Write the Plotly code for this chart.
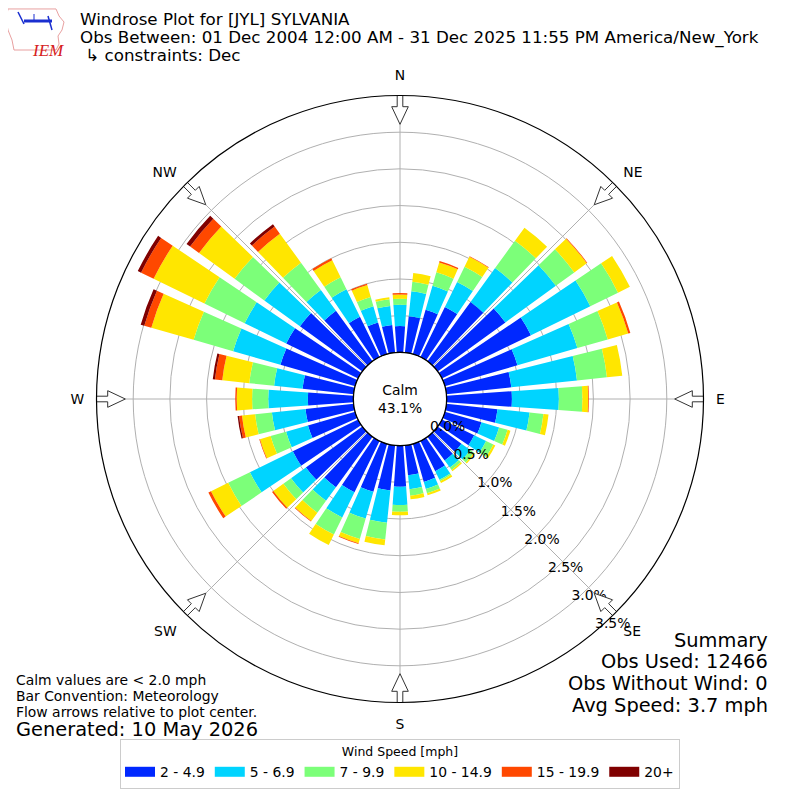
import math
import plotly.graph_objects as go

# ---------------------------
# DATA (percent of all obs, per 10 degree direction bin)
# ---------------------------
directions = list(range(0, 360, 10))
speed_bins = ["2 - 4.9", "5 - 6.9", "7 - 9.9", "10 - 14.9", "15 - 19.9", "20+"]
bin_colors = ["#0028ff", "#00d4ff", "#7cff79", "#ffe600", "#ff4800", "#800000"]

pct_2_5 = [0.36, 0.50, 0.63, 0.76, 1.00, 1.14, 1.35, 1.03, 0.89, 0.89, 0.70, 0.52,
           0.49, 0.40, 0.40, 0.46, 0.54, 0.41, 0.56, 0.62, 0.68, 0.78, 0.85, 0.95,
           0.99, 0.67, 0.66, 0.62, 0.70, 1.06, 1.09, 1.05, 0.85, 0.61, 0.45, 0.38]
pct_5_7 = [0.29, 0.34, 0.34, 0.38, 0.57, 0.85, 0.90, 0.85, 0.90, 0.64, 0.44, 0.25,
           0.18, 0.15, 0.12, 0.13, 0.10, 0.19, 0.25, 0.44, 0.38, 0.38, 0.23, 0.25,
           0.65, 0.31, 0.46, 0.54, 0.39, 0.67, 0.63, 0.60, 0.35, 0.42, 0.23, 0.26]
pct_7_10 = [0.08, 0.13, 0.19, 0.23, 0.46, 0.31, 0.42, 0.43, 0.41, 0.32, 0.19, 0.12,
            0.11, 0.06, 0.04, 0.02, 0.06, 0.09, 0.09, 0.23, 0.29, 0.26, 0.20, 0.13,
            0.33, 0.22, 0.23, 0.22, 0.34, 0.56, 0.61, 0.50, 0.46, 0.18, 0.13, 0.09]
pct_10_15 = [0.06, 0.12, 0.14, 0.15, 0.22, 0.21, 0.18, 0.29, 0.21, 0.08, 0.07, 0.04,
             0.03, 0.02, 0.02, 0.03, 0.03, 0.05, 0.05, 0.08, 0.06, 0.16, 0.14, 0.17,
             0.26, 0.15, 0.18, 0.21, 0.37, 0.60, 0.77, 0.60, 0.49, 0.26, 0.17, 0.03]
pct_15_20 = [0.02, 0.00, 0.02, 0.01, 0.00, 0.01, 0.00, 0.03, 0.00, 0.01, 0.00, 0.00,
             0.00, 0.00, 0.00, 0.00, 0.00, 0.00, 0.00, 0.00, 0.01, 0.00, 0.01, 0.02,
             0.04, 0.01, 0.04, 0.02, 0.10, 0.10, 0.19, 0.15, 0.12, 0.03, 0.02, 0.00]
pct_20p = [0.00, 0.00, 0.00, 0.00, 0.00, 0.00, 0.00, 0.00, 0.00, 0.00, 0.00, 0.00,
           0.00, 0.00, 0.00, 0.00, 0.00, 0.00, 0.00, 0.00, 0.00, 0.00, 0.00, 0.00,
           0.00, 0.00, 0.02, 0.00, 0.03, 0.05, 0.05, 0.06, 0.04, 0.00, 0.00, 0.00]
series = [pct_2_5, pct_5_7, pct_7_10, pct_10_15, pct_15_20, pct_20p]

calm_pct = 43.1
r_ticks = [0, 0.5, 1.0, 1.5, 2.0, 2.5, 3.0, 3.5]
r_labels = ["%.1f%%" % v for v in r_ticks]
compass = ["N", "NE", "E", "SE", "S", "SW", "W", "NW"]
compass_deg = [0, 45, 90, 135, 180, 225, 270, 315]

# ---------------------------
# GEOMETRY (figure pixels; the page adds an 8px body margin)
# ---------------------------
W, H = 800, 800
OFF = 8
cx, cy = 400 - OFF, 399 - OFF
R_OUT, R_IN = 303.5, 46.6
RMAX = 3.5
FONT = "DejaVu Sans"


def px_to_r(p):
    return (p - R_IN) / (R_OUT - R_IN) * RMAX


fig = go.Figure()

for name, col, vals in zip(speed_bins, bin_colors, series):
    fig.add_trace(go.Barpolar(
        r=vals, theta=directions, width=8, name=name, legendgroup=name,
        showlegend=False,
        marker=dict(color=col, line=dict(width=0)),
        hoverinfo="skip",
    ))
    # legend swatch (wide rectangle like the original)
    fig.add_trace(go.Scatterpolar(
        r=[None], theta=[None], mode="lines", name=name, legendgroup=name,
        line=dict(color=col, width=10), hoverinfo="skip",
    ))

# black ring round the calm hole
fig.add_trace(go.Scatterpolar(
    r=[0] * 361, theta=list(range(361)), mode="lines",
    line=dict(color="black", width=1.2), showlegend=False, hoverinfo="skip",
))

# radial tick labels, horizontal, beside the 140 degree line
fig.add_trace(go.Scatterpolar(
    r=r_ticks, theta=[140] * len(r_ticks), mode="text", text=r_labels,
    textposition="top right", textfont=dict(size=13.9, color="black", family=FONT),
    cliponaxis=False, showlegend=False, hoverinfo="skip",
))

# hollow flow arrows at the rim
arrow_pts = [(304, -2.8), (292.3, -2.8), (292.3, -8.3), (274.7, 0),
             (292.3, 8.3), (292.3, 2.8), (304, 2.8), (304, -2.8)]
for d in compass_deg:
    rr = [px_to_r(math.hypot(a, c)) for a, c in arrow_pts]
    tt = [d + math.degrees(math.atan2(c, a)) for a, c in arrow_pts]
    fig.add_trace(go.Scatterpolar(
        r=rr, theta=tt, mode="lines", fill="toself", fillcolor="white",
        line=dict(color="#333333", width=1), cliponaxis=False,
        showlegend=False, hoverinfo="skip",
    ))

fig.update_layout(
    width=W, height=H,
    margin=dict(l=0, r=0, t=0, b=0),
    paper_bgcolor="white",
    font=dict(family=FONT, size=13.9, color="black"),
    polar=dict(
        domain=dict(x=[(cx - R_OUT) / W, (cx + R_OUT) / W],
                    y=[1 - (cy + R_OUT) / H, 1 - (cy - R_OUT) / H]),
        hole=R_IN / R_OUT,
        bgcolor="white",
        barmode="stack",
        radialaxis=dict(
            range=[0, RMAX], tickvals=r_ticks, showticklabels=False,
            angle=-45, showline=False, ticks="",
            gridcolor="#b0b0b0", gridwidth=1,
        ),
        angularaxis=dict(
            rotation=90, direction="clockwise",
            tickmode="array", tickvals=compass_deg, ticktext=compass,
            showline=True, linecolor="black", linewidth=1.2,
            gridcolor="#b0b0b0", gridwidth=1,
            ticks="outside", ticklen=9, tickcolor="rgba(0,0,0,0)",
            tickfont=dict(size=13.9, color="black"),
        ),
    ),
    legend=dict(
        orientation="h", x=(400 - OFF) / W, xanchor="center",
        y=1 - (789 - OFF) / H, yanchor="bottom",
        bordercolor="#cccccc", borderwidth=1,
        title=dict(text="Wind Speed [mph]", side="top center",
                   font=dict(size=12.5)),
        font=dict(size=13.9),
    ),
)

annotations = []


def note(text, x, y, size, anchor="left"):
    # x, y are screen pixels of the reference page
    annotations.append(dict(
        text=text, x=(x - OFF) / W, y=1 - (y - OFF) / H,
        xref="paper", yref="paper",
        xanchor=anchor, yanchor="middle", showarrow=False,
        font=dict(size=size, family=FONT, color="black"), align=anchor,
    ))


note("Windrose Plot for [JYL] SYLVANIA", 78, 19, 16.7)
note("Obs Between: 01 Dec 2004 12:00 AM - 31 Dec 2025 11:55 PM America/New_York", 78, 37, 16.7)
note(" ↳ constraints: Dec", 78, 55, 16.7)
note("Calm<br>%.1f%%" % calm_pct, 400, 399, 13.9, "center")

note("Calm values are < 2.0 mph", 14, 680, 13.9)
note("Bar Convention: Meteorology", 14, 696, 13.9)
note("Flow arrows relative to plot center.", 14, 712, 13.9)
note("Generated: 10 May 2026", 14, 729, 19.4)

note("Summary", 770, 640, 19.4, "right")
note("Obs Used: 12466", 770, 661, 19.4, "right")
note("Obs Without Wind: 0", 770, 683, 19.4, "right")
note("Avg Speed: 3.7 mph", 770, 705, 19.4, "right")

# IEM logo (rough sketch)
annotations.append(dict(
    text="<i>IEM</i>", x=(30 - OFF) / W, y=1 - (39 - OFF) / H,
    xref="paper", yref="paper", showarrow=False,
    font=dict(size=17, family="Liberation Serif", color="#d62020"),
))
fig.update_layout(annotations=annotations)


def pix(px, py):
    return (px - OFF) / W, 1 - (py - OFF) / H


iowa = [(8, 9), (56, 9), (59, 16), (64, 22), (62, 30), (58, 36), (59, 44),
        (56, 50), (14, 50), (12, 40), (8, 30), (6, 20)]
path = "M " + " L ".join("%.4f,%.4f" % pix(*p) for p in iowa) + " Z"
shapes = [dict(type="path", path=path, xref="paper", yref="paper",
               line=dict(color="#e8a0a0", width=1))]
blue_lines = [((24, 21), (52, 21), 3), ((18, 12), (24, 24), 1.5),
              ((48, 16), (52, 30), 1.5), ((34, 14), (34, 22), 1)]
for (x0, y0), (x1, y1), w in blue_lines:
    a0, b0 = pix(x0, y0)
    a1, b1 = pix(x1, y1)
    shapes.append(dict(type="line", xref="paper", yref="paper",
                       x0=a0, y0=b0, x1=a1, y1=b1,
                       line=dict(color="#1a2fd0", width=w)))
fig.update_layout(shapes=shapes)

fig.write_html("out.html")
